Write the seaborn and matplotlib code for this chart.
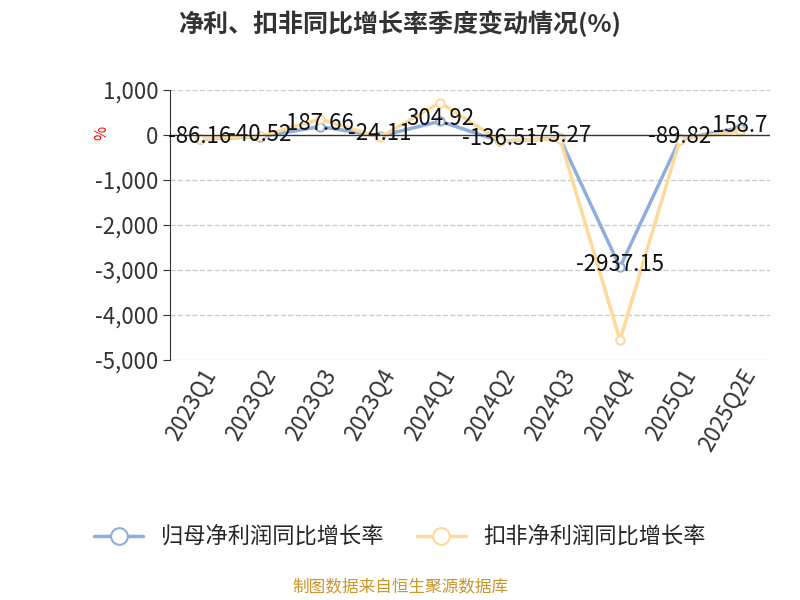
import matplotlib
matplotlib.use('Agg')
import matplotlib.pyplot as plt
import seaborn as sns
import pandas as pd

quarters = ['2023Q1', '2023Q2', '2023Q3', '2023Q4', '2024Q1', '2024Q2', '2024Q3', '2024Q4', '2025Q1', '2025Q2E']
net_profit = [-86.16, -40.52, 187.66, -24.11, 304.92, -136.51, -75.27, -2937.15, -89.82, 158.7]
deducted = [-80, -30, 350, -50, 720, -130, -80, -4560, -100, 90]

sns.set_style('white')
plt.rcParams['font.family'] = ['Noto Sans CJK SC', 'DejaVu Sans']
plt.rcParams['axes.unicode_minus'] = False

df = pd.DataFrame({'q': list(range(len(quarters))) * 2,
                   'v': net_profit + deducted,
                   's': ['归母净利润同比增长率'] * 10 + ['扣非净利润同比增长率'] * 10})

fig = plt.figure(figsize=(8, 6), dpi=100)
ax = fig.add_axes([0.2125, 0.4, 0.75, 0.45])
sns.lineplot(data=df, x='q', y='v', hue='s', palette=['#8eaedc', '#fdd99a'],
             marker='o', markersize=6, markerfacecolor='white', markeredgewidth=1.5,
             linewidth=2.5, ax=ax, legend=False)
for l in ax.lines:
    l.set_markeredgecolor(l.get_color())

for i, v in enumerate(net_profit):
    ax.text(i, v + 60, f'{v:g}', ha='center', va='center', fontsize=16, color='#111111')

ax.set_xlim(-0.5, 9.5)
ax.set_ylim(-5000, 1000)
ax.set_yticks(range(-5000, 1001, 1000))
ax.set_yticklabels([f'{t:,}' for t in range(-5000, 1001, 1000)], fontsize=16, color='#333333')
ax.set_xticks(range(10))
ax.set_xticklabels(quarters, rotation=60, ha='right', rotation_mode='anchor', fontsize=16, color='#333333')
ax.axhline(0, color='#333333', lw=1)
for t in range(-5000, 1001, 1000):
    if t != 0:
        ax.axhline(t, color='#cccccc', lw=1, ls='--', zorder=0)
for s in ['top', 'right', 'bottom']:
    ax.spines[s].set_visible(False)
ax.spines['left'].set_color('#333333')
ax.tick_params(axis='y', length=5, color='#333333', left=True)
ax.tick_params(axis='x', length=0)
ax.set_xlabel('')
ax.set_ylabel('%', color='red', fontsize=11, rotation=90)
ax.yaxis.set_label_coords(-0.1, 0.84)

fig.text(0.5, 0.96, '净利、扣非同比增长率季度变动情况(%)', ha='center', va='center',
         fontsize=18, fontweight='bold', color='#333333')

from matplotlib.lines import Line2D
handles = [Line2D([], [], color=c, lw=2.5, marker='o', markersize=12,
                  markerfacecolor='white', markeredgecolor=c, markeredgewidth=1.5)
           for c in ['#8eaedc', '#fdd99a']]
fig.legend(handles, ['归母净利润同比增长率', '扣非净利润同比增长率'], loc='center',
           bbox_to_anchor=(0.5, 0.105), ncol=2, frameon=False, fontsize=16,
           handlelength=2.2, columnspacing=1.5)
fig.text(0.5, 0.02, '制图数据来自恒生聚源数据库', ha='center', va='center', fontsize=12, color='#c8962a')

fig.savefig('out.png')
